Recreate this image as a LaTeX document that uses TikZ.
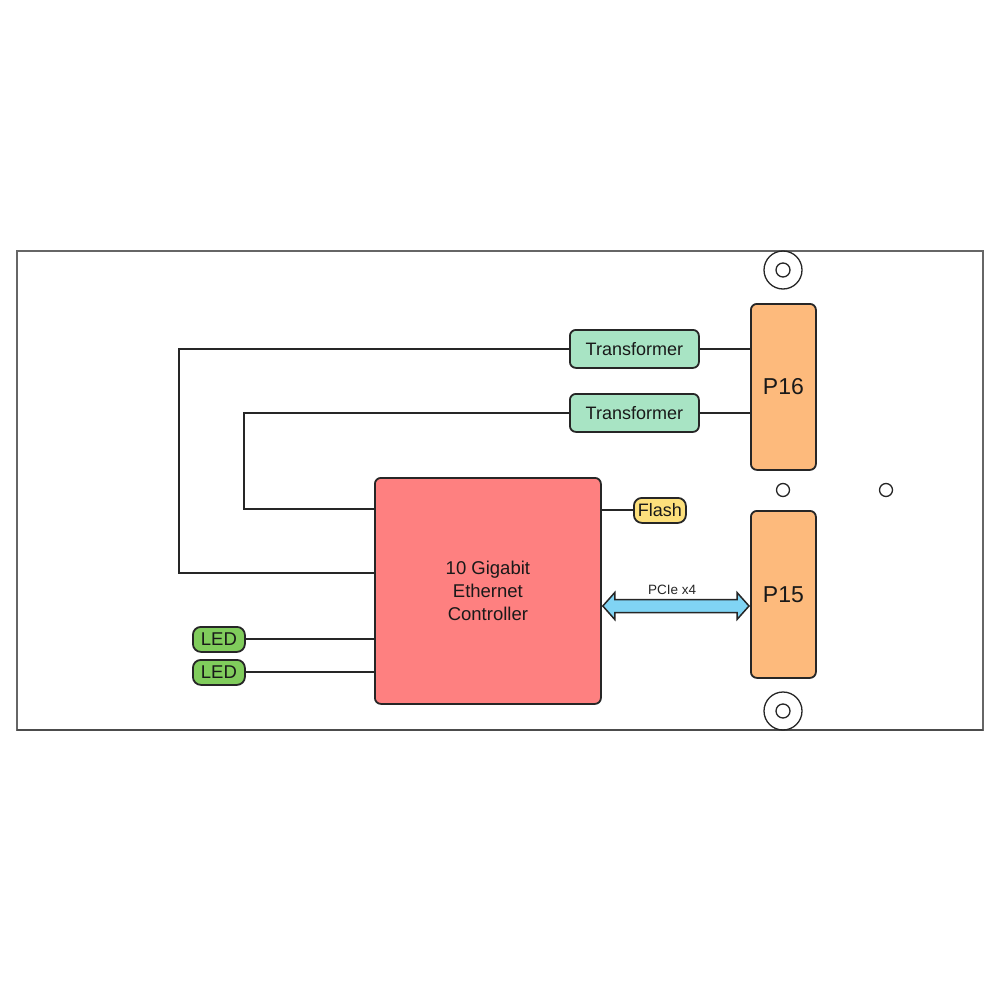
\documentclass[tikz,border=0pt]{standalone}
\usepackage{fontspec}
\setmainfont{Liberation Sans}
\usetikzlibrary{calc}
\definecolor{trf}{HTML}{A8E4C4}
\definecolor{conn}{HTML}{FDBA7C}
\definecolor{ctrl}{HTML}{FE8080}
\definecolor{flashc}{HTML}{FDE07C}
\definecolor{ledc}{HTML}{80CC5C}
\definecolor{pcie}{HTML}{80D4F4}
\definecolor{board}{HTML}{666666}
\begin{document}
\begin{tikzpicture}[x=1pt,y=-1pt,
  blk/.style={draw=black!85,line width=1.8pt,rounded corners=6pt,inner sep=0pt,anchor=north west,text=black!90},
  wire/.style={draw=black!85,line width=2pt},
  hole/.style={draw=black!85,line width=1.3pt}]
\useasboundingbox (0,0) rectangle (1000,1000);
\fill[white] (0,0) rectangle (1000,1000);
% board
\draw[board,line width=1.5pt] (17,251) rectangle (983,730);
\draw[black!70,line width=2pt] (17,730) -- (983,730);
% holes
\draw[hole] (783,270) circle (19);
\draw[hole] (783,270) circle (7);
\draw[hole] (783,711) circle (19);
\draw[hole] (783,711) circle (7);
\draw[hole] (783,490) circle (6.5);
\draw[hole] (886,490) circle (6.5);
% blocks
\node[blk,fill=trf,minimum width=129pt,minimum height=38pt,font=\fontsize{18}{20}\selectfont] (t1) at (569,329) {Transformer};
\node[blk,fill=trf,minimum width=129pt,minimum height=38pt,font=\fontsize{18}{20}\selectfont] (t2) at (569,393) {Transformer};
\node[blk,fill=conn,minimum width=65pt,minimum height=166pt,font=\fontsize{23}{26}\selectfont] (p16) at (750,303) {P16};
\node[blk,fill=conn,minimum width=65pt,minimum height=167pt,font=\fontsize{23}{26}\selectfont] (p15) at (750,510) {P15};
\node[blk,fill=ctrl,minimum width=226pt,minimum height=226pt,font=\fontsize{18.5}{23}\selectfont,align=center] (ctrl) at (374,477) {10 Gigabit\\Ethernet\\Controller};
\node[blk,fill=flashc,rounded corners=8pt,minimum width=52pt,minimum height=25pt,font=\fontsize{18}{20}\selectfont] (flash) at (633,497) {Flash};
\node[blk,fill=ledc,rounded corners=8pt,minimum width=52pt,minimum height=25pt,font=\fontsize{18.5}{20}\selectfont] (led1) at (192,626) {LED};
\node[blk,fill=ledc,rounded corners=8pt,minimum width=52pt,minimum height=25pt,font=\fontsize{18.5}{20}\selectfont] (led2) at (192,659) {LED};
% wires
\coordinate (xa) at (179,0);
\coordinate (xb) at (244,0);
\coordinate (c1) at (t1.west -| xa);
\coordinate (c2) at (179,573);
\coordinate (c3) at (t2.west -| xb);
\coordinate (c4) at (244,509);
\draw[wire] (t1.west) -- (c1) -- (c2) -- (c2 -| ctrl.west);
\draw[wire] (t2.west) -- (c3) -- (c4) -- (c4 -| ctrl.west);
\draw[wire] (t1.east) -- (t1.east -| p16.west);
\draw[wire] (t2.east) -- (t2.east -| p16.west);
\draw[wire] (flash.west) -- (flash.west -| ctrl.east);
\draw[wire] (led1.east) -- (led1.east -| ctrl.west);
\draw[wire] (led2.east) -- (led2.east -| ctrl.west);
% PCIe
\coordinate (pa) at ($(ctrl.east |- 0,606)+(1,0)$);
\coordinate (pb) at ($(p15.west |- 0,606)+(-1,0)$);
\draw[draw=black!85,line width=1.5pt,fill=pcie,line join=miter]
  (pa) -- ++(12,-13.5) -- ++(0,7) -- ($(pb)+(-12,-6.5)$) -- ++(0,-7) -- (pb)
  -- ++(-12,13.5) -- ++(0,-7) -- ($(pa)+(12,6.5)$) -- ++(0,7) -- cycle;
\node[font=\fontsize{13.5}{15}\selectfont,text=black!85] (lbl) at (672,590) {PCIe x4};
\end{tikzpicture}
\end{document}
